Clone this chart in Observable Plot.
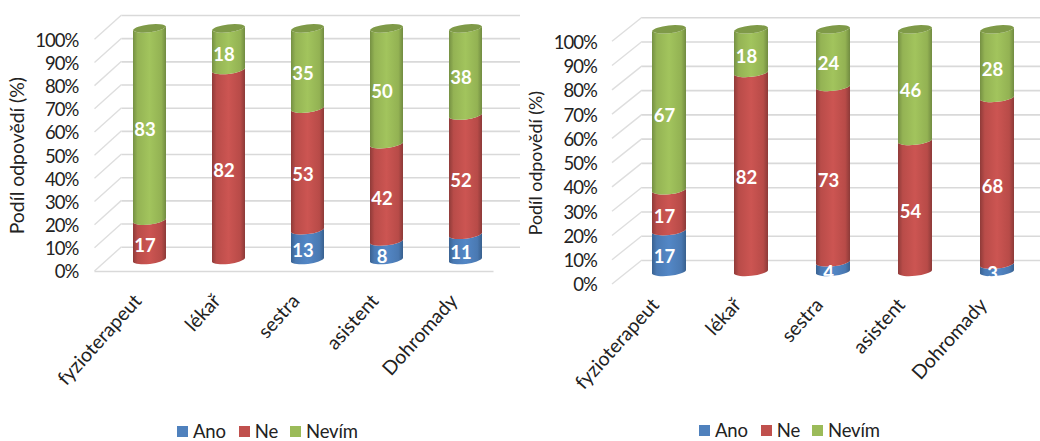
<!DOCTYPE html>
<html lang="cs">
<head>
<meta charset="utf-8">
<script src="https://cdn.jsdelivr.net/npm/d3@7"></script>
<script src="https://cdn.jsdelivr.net/npm/@observablehq/plot@0.6"></script>
<style>
  html, body { margin: 0; padding: 0; background: #fff; }
  #page { position: relative; width: 1040px; height: 441px; overflow: hidden; font-family: Lato, sans-serif; color: #222; }
  .panel { position: absolute; top: 0; width: 520px; }
  .panel svg { display: block; font-family: Lato, sans-serif; }
  .panel g[aria-label="y-axis tick label"] text { letter-spacing: -0.05em; }
  .panel g[aria-label="value label"] text { letter-spacing: -0.05em; }
  .legend { position: absolute; display: flex; align-items: center; font-size: 18.5px; line-height: 17px; letter-spacing: -0.01em; }
  .legend i { display: inline-block; width: 11px; height: 11px; margin-right: 5px; }
  .legend span { display: inline-flex; align-items: center; }
</style>
</head>
<body>
<div id="page"></div>
<script>
// Survey answers by profession, shown as stacked cylinders for two questions.
const categories = ["fyzioterapeut", "lékař", "sestra", "asistent", "Dohromady"];
const series = ["Ano", "Ne", "Nevím"];
const yTicks = [0, 0.1, 0.2, 0.3, 0.4, 0.5, 0.6, 0.7, 0.8, 0.9, 1];
const yLabel = "Podíl odpovědí (%)";

const anoA = [0, 0, 13, 8, 11];
const neA = [17, 82, 53, 42, 52];
const nevimA = [83, 18, 35, 50, 38];

const anoB = [17, 0, 4, 0, 3];
const neB = [17, 82, 73, 54, 68];
const nevimB = [67, 18, 24, 46, 28];

const colors = ["#4f81bd", "#c0504d", "#9bbb59"];
const shades = {
  "#4f81bd": ["#3a6291", "#4a7ab4", "#5387c6", "#4a79b2", "#38608e"],
  "#c0504d": ["#8f3b39", "#b94c49", "#cc5552", "#b84b48", "#8c3a38"],
  "#9bbb59": ["#759043", "#94b354", "#a2c45d", "#93b253", "#718b41"]
};
const capColor = "#7f9a48";

function rowsFrom(ano, ne, nevim) {
  const rows = [];
  categories.forEach((category, i) => {
    [ano, ne, nevim].forEach((values, s) => {
      if (values[i] > 0) rows.push({category, series: series[s], value: values[i]});
    });
  });
  return rows;
}

// Turns the bar rectangles into cylinder segments with slanted elliptical edges.
function cylinderRender(prefix, slant, ry) {
  return function (index, scales, values, dimensions, context, next) {
    const g = next(index, scales, values, dimensions, context);
    const ns = "http://www.w3.org/2000/svg";
    const defs = document.createElementNS(ns, "defs");
    colors.forEach((color, c) => {
      const gradient = document.createElementNS(ns, "linearGradient");
      gradient.setAttribute("id", `${prefix}-shade-${c}`);
      [0, 0.14, 0.5, 0.86, 1].forEach((offset, k) => {
        const stop = document.createElementNS(ns, "stop");
        stop.setAttribute("offset", offset);
        stop.setAttribute("stop-color", shades[color][k]);
        gradient.appendChild(stop);
      });
      defs.appendChild(gradient);
    });
    g.prepend(defs);
    const top = scales.y(1);
    for (const rect of [...g.querySelectorAll("rect")]) {
      const x = +rect.getAttribute("x");
      const y = +rect.getAttribute("y");
      const w = +rect.getAttribute("width");
      const h = +rect.getAttribute("height");
      const c = colors.indexOf(rect.getAttribute("fill"));
      const rx = w / 2 + 0.3;
      const angle = -Math.atan2(2 * slant, w) * 180 / Math.PI;
      const arc = (x2, y2, sweep) => `A${rx},${ry} ${angle} 0 ${sweep} ${x2},${y2}`;
      const path = document.createElementNS(ns, "path");
      path.setAttribute("d",
        `M${x},${y + h + slant}` + arc(x + w, y + h - slant, 0) +
        `L${x + w},${y - slant}` + arc(x, y + slant, 1) + "Z");
      path.setAttribute("fill", `url(#${prefix}-shade-${c})`);
      rect.replaceWith(path);
      if (Math.abs(y - top) < 0.5) {
        const cap = document.createElementNS(ns, "path");
        cap.setAttribute("d",
          `M${x},${y + slant}` + arc(x + w, y - slant, 0) + arc(x, y + slant, 0) + "Z");
        cap.setAttribute("fill", capColor);
        g.appendChild(cap);
      }
    }
    return g;
  };
}

function stackedChart(cfg) {
  const rows = rowsFrom(cfg.ano, cfg.ne, cfg.nevim);
  const stack = {x: "category", y: "value", z: "series", offset: "normalize"};
  return Plot.plot({
    width: 520,
    height: 400,
    marginLeft: cfg.left,
    marginRight: cfg.right,
    marginTop: cfg.top,
    marginBottom: 400 - cfg.bottom,
    style: {background: "transparent", color: "#222", fontFamily: "Lato, sans-serif"},
    x: {domain: categories, paddingInner: 0.58, paddingOuter: 0.29, label: null},
    y: {domain: [0, 1], label: null},
    color: {domain: series, range: colors},
    marks: [
      // Back wall of the plot box
      Plot.ruleY(yTicks, {stroke: "#d9d9d9", strokeWidth: 1.6, dx: cfg.depthX, dy: -cfg.depthY}),
      // Side wall running from the axis to the back wall
      (index, {y}) => {
        const g = d3.create("svg:g").attr("stroke", "#dedede").attr("stroke-width", 1.4);
        for (const t of yTicks) {
          g.append("line")
            .attr("x1", cfg.left - 2).attr("y1", y(t))
            .attr("x2", cfg.left + cfg.depthX).attr("y2", y(t) - cfg.depthY);
        }
        return g.node();
      },
      cfg.floor ? Plot.ruleY([0], {stroke: "#d9d9d9", strokeWidth: 1.6, dx: -2}) : null,
      Plot.barY(rows, Plot.stackY({
        ...stack,
        fill: "series",
        dx: cfg.barX,
        dy: -cfg.barY,
        render: cylinderRender(cfg.id, cfg.slant, cfg.ry)
      })),
      Plot.text(rows, Plot.stackY({
        ...stack,
        text: "value",
        fill: "white",
        fontWeight: 700,
        fontSize: cfg.valueSize,
        ariaLabel: "value label",
        dx: cfg.barX - 5,
        dy: -cfg.barY + 5.5
      })),
      Plot.axisY(yTicks, {
        anchor: "left",
        tickSize: 0,
        tickPadding: cfg.yPad,
        tickFormat: d3.format(".0%"),
        fontSize: cfg.axisSize,
        dy: 1,
        label: null
      }),
      Plot.text([yLabel], {
        frameAnchor: "left",
        dx: cfg.titleX - cfg.left,
        rotate: -90,
        fontSize: cfg.titleSize,
        textAnchor: "middle"
      }),
      Plot.axisX({
        anchor: "bottom",
        tickSize: 0,
        tickPadding: cfg.xPad,
        tickRotate: -48,
        fontSize: cfg.tickSize,
        dx: cfg.xShift,
        label: null
      })
    ]
  });
}

function legend(parent, left, top, gaps) {
  const box = document.createElement("div");
  box.className = "legend";
  box.style.left = left + "px";
  box.style.top = top + "px";
  series.forEach((name, i) => {
    const item = document.createElement("span");
    item.style.marginRight = gaps[i] + "px";
    const swatch = document.createElement("i");
    swatch.style.background = colors[i];
    item.append(swatch, name);
    box.appendChild(item);
  });
  parent.appendChild(box);
}

const page = document.getElementById("page");
const panels = [
  {id: "a", ano: anoA, ne: neA, nevim: nevimA, offset: 0, left: 96.5, right: 24.5, top: 39.3, bottom: 271,
   depthX: 25, depthY: 24.3, barX: 12, barY: 11, slant: 2, ry: 4.6, floor: true,
   yPad: 18.5, xPad: 26, xShift: 0, axisSize: 18.5, tickSize: 19.5, valueSize: 18.5, titleSize: 19.4, titleX: 17},
  {id: "b", ano: anoB, ne: neB, nevim: nevimB, offset: 520, left: 94, right: 16, top: 41.3, bottom: 284,
   depthX: 28, depthY: 24, barX: 14, barY: 12, slant: 1.8, ry: 4.6, floor: false,
   yPad: 17.5, xPad: 17, xShift: 0, axisSize: 18.5, tickSize: 19.5, valueSize: 18.5, titleSize: 17.8, titleX: 16}
];
for (const cfg of panels) {
  const holder = document.createElement("div");
  holder.className = "panel";
  holder.style.left = cfg.offset + "px";
  holder.appendChild(stackedChart(cfg));
  page.appendChild(holder);
}
legend(page, 177, 423, [13, 12, 0]);
legend(page, 699, 422, [13, 12, 0]);
</script>
</body>
</html>
